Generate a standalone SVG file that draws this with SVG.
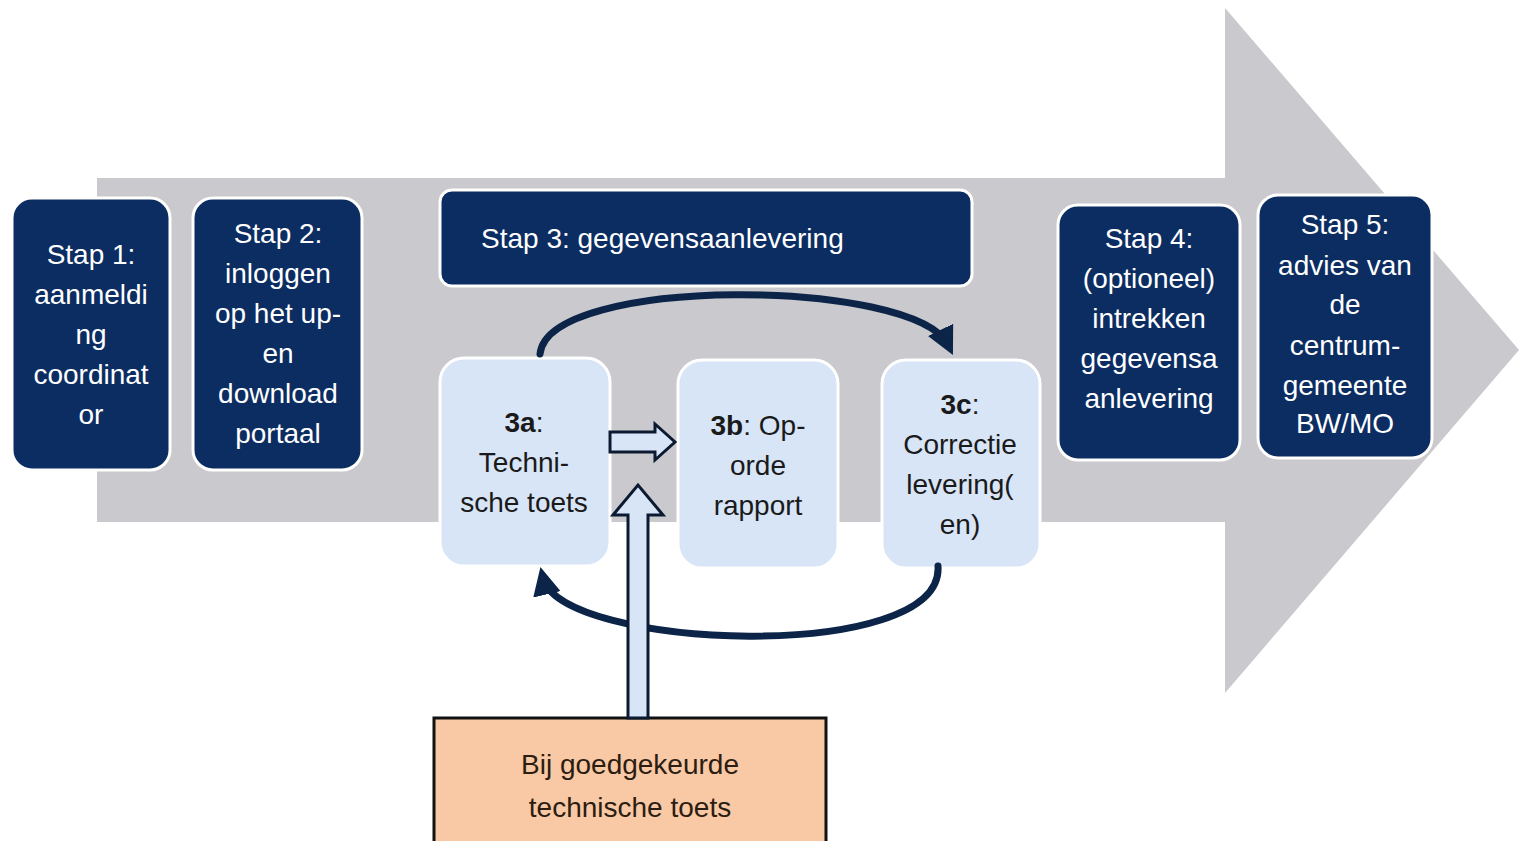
<svg xmlns="http://www.w3.org/2000/svg" width="1519" height="841" viewBox="0 0 1519 841">
<style>
.step{fill:#0c2d62;stroke:#ffffff;stroke-width:3}
.sub{fill:#d7e5f7;stroke:#ffffff;stroke-width:3}
.wt{font-family:"Liberation Sans",Arial,sans-serif;font-size:28px;fill:#ffffff;text-anchor:middle}
.dt{font-family:"Liberation Sans",Arial,sans-serif;font-size:28px;fill:#1a1a1a;text-anchor:middle}
.loop{fill:none;stroke:#0b2447;stroke-width:7;stroke-linecap:round}
.block{fill:#d7e5f7;stroke:#0b1a30;stroke-width:3;stroke-linejoin:miter}
</style>
<defs>
<marker id="ah" viewBox="0 0 10 10" refX="6" refY="5" markerWidth="4" markerHeight="4" orient="auto" markerUnits="strokeWidth">
<path d="M0,0 L10,5 L0,10 z" fill="#0b2447"/>
</marker>
</defs>
<rect width="1519" height="841" fill="#ffffff"/>
<polygon id="bigarrow" points="97,178 1225,178 1225,8 1519,350 1225,693 1225,522 97,522" fill="#c9c9ce"/>
<g id="stap1"><rect class="step" x="12" y="198" width="158" height="272" rx="20"/>
<text class="wt" x="91" y="264">Stap 1:</text><text class="wt" x="91" y="304">aanmeldi</text><text class="wt" x="91" y="344">ng</text><text class="wt" x="91" y="384">coordinat</text><text class="wt" x="91" y="424">or</text></g>
<g id="stap2"><rect class="step" x="193" y="198" width="169" height="272" rx="20"/>
<text class="wt" x="278" y="243">Stap 2:</text><text class="wt" x="278" y="283">inloggen</text><text class="wt" x="278" y="323">op het up-</text><text class="wt" x="278" y="363">en</text><text class="wt" x="278" y="403">download</text><text class="wt" x="278" y="443">portaal</text></g>
<g id="stap3"><rect class="step" x="440" y="190" width="532" height="96" rx="12"/>
<text class="wt" x="481" y="248" style="text-anchor:start">Stap 3: gegevensaanlevering</text></g>
<g id="stap3a"><rect class="sub" x="440" y="358" width="170" height="208" rx="24"/>
<text class="dt" x="524" y="432"><tspan font-weight="bold">3a</tspan>:</text><text class="dt" x="524" y="472">Techni-</text><text class="dt" x="524" y="512">sche toets</text></g>
<g id="stap3b"><rect class="sub" x="678" y="360" width="160" height="208" rx="24"/>
<text class="dt" x="758" y="435"><tspan font-weight="bold">3b</tspan>: Op-</text><text class="dt" x="758" y="475">orde</text><text class="dt" x="758" y="515">rapport</text></g>
<g id="stap3c"><rect class="sub" x="882" y="360" width="158" height="208" rx="24"/>
<text class="dt" x="960" y="414"><tspan font-weight="bold">3c</tspan>:</text><text class="dt" x="960" y="454">Correctie</text><text class="dt" x="960" y="494">levering(</text><text class="dt" x="960" y="534">en)</text></g>
<g id="stap4"><rect class="step" x="1058" y="205" width="182" height="255" rx="20"/>
<text class="wt" x="1149" y="248">Stap 4:</text><text class="wt" x="1149" y="288">(optioneel)</text><text class="wt" x="1149" y="328">intrekken</text><text class="wt" x="1149" y="368">gegevensa</text><text class="wt" x="1149" y="408">anlevering</text></g>
<g id="stap5"><rect class="step" x="1258" y="195" width="174" height="263" rx="20"/>
<text class="wt" x="1345" y="234">Stap 5:</text><text class="wt" x="1345" y="275">advies van</text><text class="wt" x="1345" y="314">de</text><text class="wt" x="1345" y="355">centrum-</text><text class="wt" x="1345" y="395">gemeente</text><text class="wt" x="1345" y="433">BW/MO</text></g>
<g id="bij"><rect x="434" y="718" width="392" height="130" fill="#f9c8a4" stroke="#111111" stroke-width="3"/>
<text class="dt" x="630" y="774" style="fill:#2b1d12">Bij goedgekeurde</text><text class="dt" x="630" y="817" style="fill:#2b1d12">technische toets</text></g>
<g id="connectors">
<path class="loop" d="M540,354 C548,275 915,278 948,345" marker-end="url(#ah)"/>
<path class="loop" d="M938,566 C945,665 560,650 543,578" marker-end="url(#ah)"/>
<polygon class="block" points="610,432 655,432 655,424 675,442 655,460 655,452 610,452"/>
<polygon class="block" points="628,718 628,515 613,515 638,485 663,515 648,515 648,718"/>
</g>
</svg>
